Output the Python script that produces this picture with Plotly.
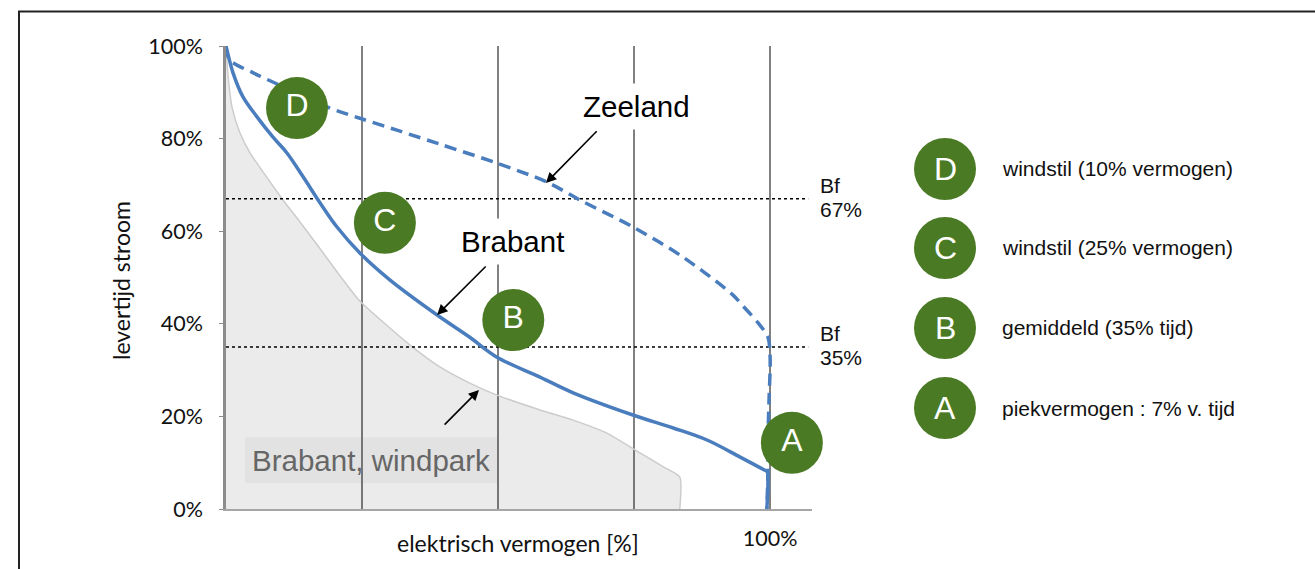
import plotly.graph_objects as go

# --- data (x: elektrisch vermogen %, y: levertijd %) ---
brabant_x = [0, 0.18, 1.29, 3.12, 5.7, 8.64, 11.2, 14.2, 17.3, 20.4, 24.6, 30.1,
             38.8, 44.8, 49.8, 57.7, 63.8, 74.8, 82.2, 88.4, 94.5, 99.6, 99.6, 99.4]
brabant_y = [100, 99.1, 94.2, 89.0, 84.7, 80.3, 76.9, 71.7, 66.1, 60.9, 55.3, 49.5,
             41.9, 37.1, 32.8, 28.5, 25.1, 20.3, 17.5, 14.9, 11.2, 8.0, 4.0, 0]

zeeland_x = [0, 0.7, 5.0, 9.4, 19.1, 24.6, 32.0, 39.3, 49.8, 59.0, 65.1, 74.8, 84.0,
             93.2, 94.5, 97.8, 99.6, 100, 99.8, 99.6, 99.6, 99.4]
zeeland_y = [100, 97, 94.2, 91.8, 86.6, 84.4, 81.6, 78.8, 74.7, 70.6, 66.7, 60.9, 54.4,
             46.2, 44.5, 40.2, 37.1, 32.8, 23.5, 15, 8, 0]

windpark_x = [0, 0.37, 1.1, 2.57, 4.41, 6.8, 10.5, 13.6, 17.3, 21.0, 24.6, 30.1, 34.7,
              39.3, 44.8, 49.8, 57.7, 63.8, 70.0, 76.1, 80.7, 83.4, 83.4]
windpark_y = [100, 93.7, 86.8, 81.2, 76.9, 72.8, 66.7, 62.0, 56.2, 50.3, 44.9, 39.1, 34.6,
              30.7, 27.2, 24.6, 21.4, 19.2, 16.4, 12.1, 8.9, 6.9, 0]

point_labels = ['D', 'C', 'B', 'A']
point_x = [13.05, 29.2, 52.8, 104.0]
point_y = [86.6, 61.8, 40.8, 14.3]

legend_letters = ['D', 'C', 'B', 'A']
legend_texts = ['windstil (10% vermogen)', 'windstil (25% vermogen)',
                'gemiddeld (35% tijd)', 'piekvermogen : 7% v. tijd']

bf_levels = [67, 35]
bf_labels = ['67%', '35%']

y_ticks = [0, 20, 40, 60, 80, 100]
y_ticktext = ['0%', '20%', '40%', '60%', '80%', '100%']
x_grid = [25, 50, 75]
x_ticks = [100]
x_ticktext = ['100%']

W, H = 1315, 569
BLUE = '#4a7dbd'
GREEN = '#4a7a24'
HELV = 'Liberation Sans, Arial, sans-serif'
CALI = 'Lato, Carlito, sans-serif'


def px(x):
    return x / W


def py(y):
    return 1 - y / H


fig = go.Figure()

# grey area: Brabant windpark
fig.add_trace(go.Scatter(x=windpark_x, y=windpark_y, mode='lines', fill='tozeroy',
                         fillcolor='rgba(0,0,0,0.08)', line_shape='spline',
                         line=dict(color='#cccccc', width=1.5, smoothing=0.6),
                         hoverinfo='skip'))

# Bf levels
for lvl in bf_levels:
    fig.add_trace(go.Scatter(x=[0, 107], y=[lvl, lvl], mode='lines',
                             line=dict(color='black', width=1.5, dash='dot'),
                             hoverinfo='skip'))

# Zeeland (dashed) and Brabant (solid)
fig.add_trace(go.Scatter(x=zeeland_x, y=zeeland_y, mode='lines', line_shape='spline',
                         line=dict(color=BLUE, width=3.5, dash='12px,7px', smoothing=0.9)))
fig.add_trace(go.Scatter(x=brabant_x[:22], y=brabant_y[:22], mode='lines',
                         line_shape='spline',
                         line=dict(color=BLUE, width=3.5, smoothing=1.0)))
fig.add_trace(go.Scatter(x=brabant_x[21:], y=brabant_y[21:], mode='lines',
                         line=dict(color=BLUE, width=3.5)))

# green markers on the chart
fig.add_trace(go.Scatter(x=point_x, y=point_y, mode='markers+text', text=point_labels,
                         textposition='middle center',
                         textfont=dict(family=HELV, size=32, color='white'),
                         marker=dict(size=62, color=GREEN, line=dict(width=0)),
                         cliponaxis=False))

# legend on the right (outside the axes, figure pixel positions)
leg_cx = 945
leg_cy = [169, 248, 328, 408]
R = 31
for letter, txt, cy in zip(legend_letters, legend_texts, leg_cy):
    fig.add_shape(type='circle', xref='paper', yref='paper',
                  x0=px(leg_cx - R), x1=px(leg_cx + R), y0=py(cy + R), y1=py(cy - R),
                  fillcolor=GREEN, line=dict(width=0))
    fig.add_annotation(x=px(leg_cx), y=py(cy), xref='paper', yref='paper', text=letter,
                       xanchor='center', yanchor='middle', showarrow=False,
                       font=dict(family=HELV, size=32, color='white'))
    fig.add_annotation(x=px(1000), y=py(cy), xref='paper', yref='paper', text=txt,
                       showarrow=False, xanchor='left', yanchor='middle',
                       font=dict(family=HELV, size=21, color='#111'))

# Bf labels
for lbl, lvl in zip(bf_labels, bf_levels):
    fig.add_annotation(x=px(818), xref='paper', y=lvl, yref='y', text='Bf',
                       showarrow=False, xanchor='left', yanchor='middle', yshift=13,
                       font=dict(family=HELV, size=21, color='#111'))
    fig.add_annotation(x=px(818), xref='paper', y=lvl, yref='y', text=lbl,
                       showarrow=False, xanchor='left', yanchor='middle', yshift=-11,
                       font=dict(family=HELV, size=21, color='#111'))

# curve labels with white boxes (interrupt the gridlines)
fig.add_annotation(x=75.4, y=87.0, text='Zeeland', showarrow=False, bgcolor='white',
                   borderpad=6, font=dict(family=HELV, size=29.5, color='black'))
fig.add_annotation(x=52.6, y=57.7, text='Brabant', showarrow=False, bgcolor='white',
                   borderpad=6, font=dict(family=HELV, size=29.5, color='black'))
fig.add_annotation(x=26.6, y=10.4, text='Brabant, windpark', showarrow=False,
                   font=dict(family=HELV, size=29.5, color='#666666'))
fig.add_shape(type='rect', x0=3.5, x1=49.8, y0=5.6, y1=15.5, xref='x', yref='y',
              fillcolor='#f6f6f6', line=dict(width=0), layer='below')

# arrows
arrows = [((58.8, 70.4), (68.4, 81.9)),
          ((38.8, 41.9), (48.0, 52.7)),
          ((46.5, 25.7), (39.9, 17.9))]
for (tx, ty), (sx, sy) in arrows:
    fig.add_annotation(x=tx, y=ty, ax=sx, ay=sy, axref='x', ayref='y', text='',
                       showarrow=True, arrowhead=2, arrowsize=1.3, arrowwidth=1.6,
                       arrowcolor='black')

# axis titles
fig.add_annotation(x=px(518), y=py(543), xref='paper', yref='paper',
                   xanchor='center', yanchor='middle',
                   text='elektrisch vermogen [%]', showarrow=False,
                   font=dict(family=CALI, size=23, color='#111'))
fig.add_annotation(x=px(121), y=py(281), xref='paper', yref='paper',
                   xanchor='center', yanchor='middle',
                   text='levertijd stroom', showarrow=False, textangle=-90,
                   font=dict(family=CALI, size=23, color='#111'))

# outer frame
fig.add_shape(type='rect', xref='paper', yref='paper', x0=px(19), x1=1.05,
              y0=-0.05, y1=py(11.5), line=dict(color='#222', width=2))

fig.update_layout(
    template='none', width=W, height=H, showlegend=False,
    margin=dict(l=0, r=0, t=0, b=0),
    paper_bgcolor='white', plot_bgcolor='rgba(0,0,0,0)',
    xaxis=dict(domain=[px(226), px(812)], range=[0, 107.7], automargin=False,
               tickmode='array', tickvals=x_ticks, ticktext=x_ticktext,
               ticks='', ticklabelstandoff=9, showgrid=True, gridcolor='#808080',
               gridwidth=1.5, zeroline=False, showline=True, linecolor='#a6a6a6',
               linewidth=2, tickfont=dict(family=CALI, size=21.5, color='#111'),
               minor=dict(tickmode='array', tickvals=x_grid, showgrid=True,
                          gridcolor='#808080', gridwidth=1.5, ticks='')),
    yaxis=dict(domain=[py(509), py(46)], range=[0, 100], automargin=False,
               tickmode='array', tickvals=y_ticks, ticktext=y_ticktext,
               ticks='outside', ticklen=4, tickcolor='#8c8c8c', ticklabelstandoff=12,
               showgrid=False, zeroline=False, showline=True, linecolor='#8c8c8c',
               linewidth=2.5, tickfont=dict(family=CALI, size=21.5, color='#111')),
)

fig.write_html("out.html", config={'displayModeBar': False},
               post_script="document.body.style.margin='0';"
                           "document.body.style.overflow='hidden';")
